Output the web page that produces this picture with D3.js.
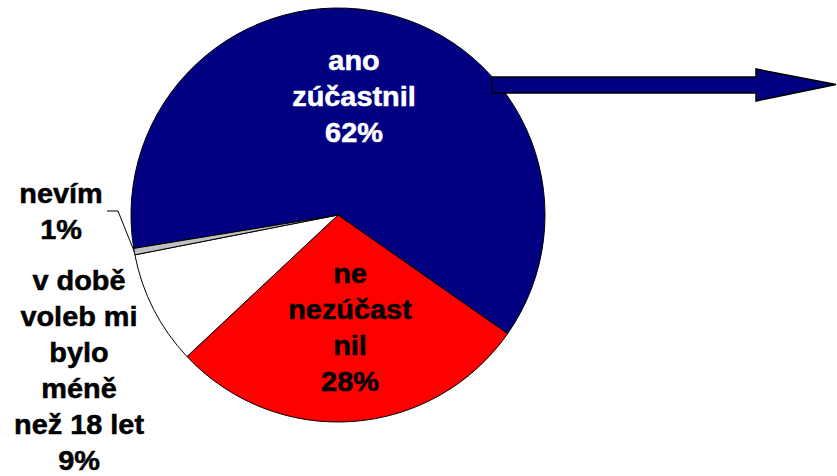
<!DOCTYPE html>
<html>
<head>
<meta charset="utf-8">
<script src="https://cdn.jsdelivr.net/npm/d3@7"></script>
<style>
  body { margin: 0; background: #fff; }
  svg { display: block; }
  text { font-family: "Liberation Sans", Arial, sans-serif; font-weight: bold; }
</style>
</head>
<body>
<div id="chart"></div>
<script>
const WIDTH = 837;
const HEIGHT = 476;

// slices, clockwise starting with the blue one
const categories = ["ano zúčastnil", "ne nezúčastnil", "v době voleb mi bylo méně než 18 let", "nevím"];
const values = [62.3, 28.3, 8.9, 0.5]; // percent
const labelLines = [
  ["ano", "zúčastnil"],
  ["ne", "nezúčast", "nil"],
  ["v době", "voleb mi", "bylo", "méně", "než 18 let"],
  ["nevím"]
];
const colors = ["#000080", "#ff0000", "#ffffff", "#c0c0c0"];
const textColors = ["#ffffff", "#000000", "#000000", "#000000"];

const cx = 338, cy = 215, radius = 207;
const startDeg = -99.3;
const LINE_H = 36;

var svg = d3.select("#chart")
  .append("svg")
  .attr("width", WIDTH)
  .attr("height", HEIGHT);

var pie = d3.pie()
  .sort(null)
  .value(d => d)
  .startAngle(startDeg * Math.PI / 180)
  .endAngle((startDeg + 360) * Math.PI / 180);

var arc = d3.arc().innerRadius(0).outerRadius(radius);

var arcs = pie(values);

var g = svg.append("g").attr("transform", `translate(${cx},${cy})`);

g.selectAll("path")
  .data(arcs)
  .join("path")
    .attr("d", arc)
    .attr("fill", (d, i) => colors[i])
    .attr("stroke", "#000")
    .attr("stroke-width", 1)
    .attr("stroke-linejoin", "round");

// block arrow pointing right out of the blue slice
svg.append("path")
  .attr("d", "M492,77 L756,77 L756,69 L836,84.5 L756,101 L756,93 L492,93 Z")
  .attr("fill", "#000080")
  .attr("stroke", "#000")
  .attr("stroke-width", 1.5);

// label positions (first line baseline)
const labelPos = [
  [354, 70],
  [350, 283],
  [79, 290],
  [61, 203]
];

arcs.forEach((d, i) => {
  const lines = labelLines[i].concat([Math.round(values[i]) + "%"]);
  const t = svg.append("text")
    .attr("transform", `translate(${labelPos[i][0]},${labelPos[i][1]}) scale(1.07,1)`)
    .attr("text-anchor", "middle")
    .attr("font-size", 27)
    .attr("fill", textColors[i])
    .attr("stroke", textColors[i])
    .attr("stroke-width", 0.5);
  lines.forEach((ln, k) => {
    t.append("tspan")
      .attr("x", 0)
      .attr("y", k * LINE_H)
      .text(ln);
  });
});

// leader line for the tiny "nevím" slice
const grey = arcs[3];
const mid = (grey.startAngle + grey.endAngle) / 2;
const px = cx + Math.sin(mid) * radius;
const py = cy - Math.cos(mid) * radius;
svg.append("polyline")
  .attr("points", `107,211 118,211 ${px},${py}`)
  .attr("fill", "none")
  .attr("stroke", "#000")
  .attr("stroke-width", 1);
</script>
</body>
</html>
